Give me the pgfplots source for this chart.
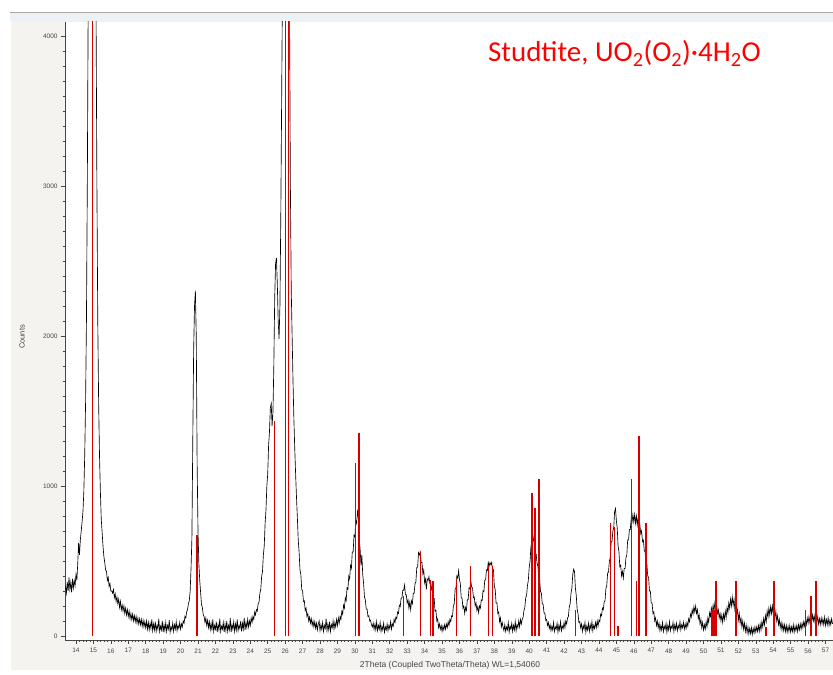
\documentclass[border=0pt]{standalone}
\usepackage{pgfplots}
\pgfplotsset{compat=1.18}
\usepackage{fontspec}
\setmainfont{Liberation Sans}
\newfontfamily\titlefont{Carlito}
\definecolor{bgGray}{RGB}{244,243,240}
\definecolor{bandC}{RGB}{236,241,245}
\definecolor{stick}{RGB}{215,0,0}
\definecolor{axc}{RGB}{70,70,70}
\begin{document}
\begin{tikzpicture}[x=1bp,y=1bp]
\useasboundingbox (0,0) rectangle (833,675);
\fill[white] (0,0) rectangle (833,675);
\fill[bgGray] (11,5) rectangle (833,662);
\fill[bandC] (10,653) rectangle (833,662);
\draw[black!35, line width=0.8bp] (10,662.5) -- (833,662.5);
\fill[white] (65,35) rectangle (833,653);
\begin{axis}[
  at={(65bp,35bp)}, anchor=south west, scale only axis,
  width=768bp, height=618bp,
  xmin=13.37, xmax=57.43, ymin=-27, ymax=4093,
  axis x line*=bottom, axis y line*=left,
  axis line style={draw=axc, line width=0.6bp, -},
  xtick={14,...,57}, minor x tick num=4,
  ytick={0,1000,2000,3000,4000}, minor y tick num=9,
  tick align=outside, major tick length=4bp, minor tick length=2bp,
  every tick/.style={axc, line width=0.5bp},
  /pgf/number format/assume math mode=true,
  ticklabel style={font=\fontsize{6.5}{7}\selectfont, text=axc},
  xticklabel style={yshift=-1bp},
  scaled y ticks=false,
  yticklabel style={/pgf/number format/1000 sep={}},
  clip=true,
]
\addplot[black, line width=0.65bp] coordinates {
(13.40,330)(13.45,285)(13.50,360)(13.55,300)(13.60,390)(13.65,310)(13.70,355)(13.75,290)
(13.80,380)(13.85,320)(13.90,370)(13.95,335)(14.00,410)(14.05,370)(14.10,480)(14.15,620)
(14.20,540)(14.25,640)(14.30,700)(14.35,760)(14.40,830)(14.45,960)(14.50,1200)(14.55,1550)
(14.60,2100)(14.65,3000)(14.70,4200)(14.75,5500)(14.80,6500)(14.85,7000)(14.90,7200)(14.95,7200)
(15.00,7000)(15.05,6500)(15.10,5200)(15.15,4200)(15.20,3000)(15.25,2100)(15.30,1550)(15.35,1200)
(15.40,960)(15.45,780)(15.50,690)(15.55,600)(15.60,530)(15.65,490)(15.70,440)(15.75,430)
(15.80,370)(15.85,390)(15.90,330)(15.95,350)(16.00,300)
(16.05,300)(16.10,285)(16.15,310)(16.20,255)(16.25,280)(16.30,230)(16.35,260)(16.40,215)
(16.45,245)(16.50,190)(16.55,230)(16.60,175)(16.65,205)(16.70,165)(16.75,200)(16.80,150)
(16.85,185)(16.90,140)(16.95,175)(17.00,130)(17.05,165)(17.10,115)(17.15,150)(17.20,110)
(17.25,145)(17.30,100)(17.35,135)(17.40,95)(17.45,130)(17.50,85)(17.55,120)(17.60,80)
(17.65,115)(17.70,75)(17.75,110)(17.80,65)(17.85,105)(17.90,60)(17.95,95)(18.00,55)
(18.05,100)(18.10,45)(18.15,90)(18.20,40)(18.25,85)(18.30,50)(18.35,110)(18.40,35)
(18.45,80)(18.50,40)(18.55,95)(18.60,30)(18.65,70)(18.70,45)(18.75,115)(18.80,30)
(18.85,65)(18.90,40)(18.95,100)(19.00,25)(19.05,75)(19.10,35)(19.15,90)(19.20,30)
(19.25,70)(19.30,45)(19.35,105)(19.40,25)(19.45,60)(19.50,40)(19.55,85)(19.60,30)
(19.65,75)(19.70,45)(19.75,95)(19.80,35)(19.85,70)(19.90,50)(19.95,90)(20.00,45)
(20.05,80)(20.10,60)(20.15,100)(20.20,85)(20.25,130)(20.30,120)(20.35,160)(20.40,175)
(20.45,215)(20.50,235)(20.55,300)(20.60,450)(20.65,650)(20.70,1300)(20.75,1900)(20.80,2200)
(20.85,2300)(20.90,2000)(20.95,1150)(21.00,700)(21.05,480)(21.10,370)(21.15,290)(21.20,210)
(21.25,190)(21.30,140)
(21.35,130)(21.40,90)(21.45,120)(21.50,70)(21.55,105)(21.60,55)(21.65,95)(21.70,40)
(21.75,85)(21.80,35)(21.85,110)(21.90,30)(21.95,70)(22.00,45)(22.05,95)(22.10,25)
(22.15,75)(22.20,40)(22.25,115)(22.30,30)(22.35,65)(22.40,45)(22.45,90)(22.50,25)
(22.55,80)(22.60,35)(22.65,100)(22.70,30)(22.75,70)(22.80,40)(22.85,120)(22.90,25)
(22.95,75)(23.00,45)(23.05,95)(23.10,30)(23.15,80)(23.20,40)(23.25,110)(23.30,35)
(23.35,70)(23.40,50)(23.45,100)(23.50,30)(23.55,85)(23.60,45)(23.65,120)(23.70,40)
(23.75,90)(23.80,55)(23.85,110)(23.90,60)(23.95,100)(24.00,70)
(24.05,120)(24.10,90)(24.15,130)(24.20,110)(24.25,160)(24.30,140)(24.35,175)(24.40,165)
(24.45,215)(24.50,225)(24.55,285)(24.60,310)(24.65,395)(24.70,430)(24.75,540)(24.80,600)
(24.85,750)(24.90,840)(24.95,1000)(25.00,1080)(25.05,1270)(25.10,1360)(25.15,1520)(25.20,1550)
(25.25,1400)(25.30,1490)(25.35,1800)(25.40,2250)(25.45,2480)(25.50,2520)(25.55,2350)(25.60,2100)
(25.65,1980)(25.70,2200)(25.75,2800)(25.80,3600)(25.85,4400)(25.90,5200)(25.95,6000)(26.00,6800)
(26.05,7200)(26.10,7200)(26.15,6800)(26.20,5600)(26.25,4200)(26.30,3000)(26.35,2300)(26.40,2000)
(26.45,1700)(26.50,1450)(26.55,1250)(26.60,1080)(26.65,925)(26.70,790)(26.75,640)(26.80,560)
(26.85,440)(26.90,410)(26.95,310)(27.00,300)(27.05,230)(27.10,235)(27.15,170)(27.20,185)
(27.25,130)(27.30,150)(27.35,100)(27.40,125)(27.45,85)(27.50,115)(27.55,70)(27.60,100)
(27.65,60)(27.70,95)(27.75,50)(27.80,85)(27.85,40)(27.90,80)(27.95,100)(28.00,35)
(28.05,75)(28.10,45)(28.15,90)(28.20,30)(28.25,70)(28.30,50)(28.35,115)(28.40,35)
(28.45,80)(28.50,40)(28.55,95)(28.60,30)(28.65,75)(28.70,55)(28.75,100)(28.80,45)
(28.85,90)(28.90,60)(28.95,110)
(29.00,70)(29.05,120)(29.10,85)(29.15,130)(29.20,110)(29.25,165)(29.30,145)(29.35,205)
(29.40,185)(29.45,255)(29.50,235)(29.55,320)(29.60,310)(29.65,400)(29.70,380)(29.75,470)
(29.80,450)(29.85,560)(29.90,560)(29.95,670)(30.00,660)(30.05,770)(30.10,750)(30.15,830)
(30.20,790)(30.25,640)(30.30,580)(30.35,470)(30.40,540)(30.45,410)(30.50,350)(30.55,260)
(30.60,240)(30.65,180)(30.70,180)(30.75,130)(30.80,135)(30.85,100)(30.90,105)(30.95,75)
(31.00,60)(31.05,85)(31.10,45)(31.15,80)(31.20,40)(31.25,95)(31.30,35)(31.35,70)
(31.40,45)(31.45,90)(31.50,30)(31.55,65)(31.60,40)(31.65,85)(31.70,25)(31.75,60)
(31.80,40)(31.85,80)(31.90,35)(31.95,70)(32.00,50)(32.05,95)(32.10,45)(32.15,80)
(32.20,65)(32.25,110)(32.30,90)(32.35,125)
(32.40,115)(32.45,160)(32.50,150)(32.55,205)(32.60,195)(32.65,250)(32.70,255)(32.75,305)
(32.80,305)(32.85,340)(32.90,275)(32.95,275)(33.00,220)(33.05,240)(33.10,185)(33.15,225)
(33.20,175)(33.25,235)(33.30,215)(33.35,285)(33.40,285)(33.45,350)(33.50,360)(33.55,455)
(33.60,460)(33.65,555)(33.70,540)(33.75,560)(33.80,490)(33.85,490)(33.90,415)(33.95,440)
(34.00,355)(34.05,380)(34.10,310)(34.15,380)(34.20,370)(34.25,395)(34.30,350)(34.35,360)
(34.40,310)(34.45,330)(34.50,250)(34.55,250)(34.60,165)(34.65,170)(34.70,100)(34.75,115)
(34.80,55)(34.85,80)(34.90,45)(34.95,70)(35.00,30)(35.05,65)(35.10,40)(35.15,75)
(35.20,45)(35.25,80)(35.30,55)(35.35,95)(35.40,70)(35.45,110)(35.50,95)(35.55,135)
(35.60,130)(35.65,200)(35.70,215)(35.75,310)(35.80,320)(35.85,400)(35.90,385)(35.95,435)
(36.00,375)(36.05,350)(36.10,255)(36.15,250)(36.20,185)(36.25,200)(36.30,150)(36.35,190)
(36.40,170)(36.45,240)(36.50,245)(36.55,320)(36.60,315)(36.65,365)(36.70,325)(36.75,320)
(36.80,255)(36.85,260)(36.90,200)(36.95,220)(37.00,170)(37.05,195)(37.10,155)(37.15,200)
(37.20,185)(37.25,240)(37.30,235)(37.35,300)(37.40,295)(37.45,370)(37.50,375)(37.55,440)
(37.60,435)(37.65,490)(37.70,465)(37.75,490)(37.80,475)(37.85,490)(37.90,430)(37.95,440)
(38.00,330)(38.05,310)(38.10,220)(38.15,220)(38.20,150)(38.25,160)(38.30,95)(38.35,120)
(38.40,60)(38.45,90)
(38.50,60)(38.55,35)(38.60,75)(38.65,30)(38.70,60)(38.75,40)(38.80,90)(38.85,25)
(38.90,65)(38.95,45)(39.00,85)(39.05,30)(39.10,70)(39.15,40)(39.20,95)(39.25,35)
(39.30,75)(39.35,55)(39.40,100)(39.45,60)(39.50,110)(39.55,80)
(39.60,110)(39.65,125)(39.70,170)(39.75,190)(39.80,255)(39.85,270)(39.90,335)(39.95,370)
(40.00,455)(40.05,500)(40.10,595)(40.15,620)(40.20,675)(40.25,640)(40.30,615)(40.35,540)
(40.40,545)(40.45,485)(40.50,465)(40.55,385)(40.60,375)(40.65,295)(40.70,285)(40.75,215)
(40.80,210)(40.85,155)(40.90,150)(40.95,105)(41.00,110)(41.05,70)(41.10,90)(41.15,50)
(41.20,75)(41.25,35)(41.30,65)(41.35,40)(41.40,90)(41.45,30)(41.50,60)(41.55,45)
(41.60,85)(41.65,25)(41.70,70)(41.75,40)(41.80,95)(41.85,35)(41.90,65)(41.95,50)
(42.00,90)(42.05,55)(42.10,100)
(42.15,80)(42.20,120)(42.25,130)(42.30,195)(42.35,215)(42.40,285)(42.45,320)(42.50,410)
(42.55,445)(42.60,430)(42.65,320)(42.70,270)(42.75,180)(42.80,150)(42.85,90)(42.90,95)
(42.95,55)(43.00,80)(43.05,30)(43.10,70)(43.15,45)(43.20,90)(43.25,25)(43.30,65)
(43.35,40)(43.40,85)(43.45,30)(43.50,75)(43.55,45)(43.60,95)(43.65,35)(43.70,70)
(43.75,50)(43.80,90)(43.85,55)(43.90,100)(43.95,65)
(44.00,105)(44.05,95)(44.10,145)(44.15,135)(44.20,185)(44.25,175)(44.30,225)(44.35,235)
(44.40,315)(44.45,335)(44.50,420)(44.55,425)(44.60,500)(44.65,520)(44.70,625)(44.75,630)
(44.80,700)(44.85,720)(44.90,830)(44.95,850)(45.00,770)(45.05,720)(45.10,600)(45.15,560)
(45.20,460)(45.25,470)(45.30,400)(45.35,430)(45.40,385)(45.45,450)(45.50,450)(45.55,520)
(45.60,540)(45.65,640)(45.70,640)(45.75,710)(45.80,710)(45.85,780)(45.90,760)(45.95,810)
(46.00,760)(46.05,810)(46.10,750)(46.15,800)(46.20,740)(46.25,790)(46.30,720)(46.35,740)
(46.40,680)(46.45,700)(46.50,630)(46.55,640)(46.60,570)(46.65,560)(46.70,480)(46.75,480)
(46.80,400)(46.85,390)(46.90,300)(46.95,300)(47.00,220)(47.05,220)(47.10,150)(47.15,160)
(47.20,100)(47.25,120)(47.30,70)(47.35,100)(47.40,55)(47.45,85)
(47.50,35)(47.55,70)(47.60,40)(47.65,90)(47.70,30)(47.75,65)(47.80,45)(47.85,85)
(47.90,25)(47.95,70)(48.00,40)(48.05,95)(48.10,35)(48.15,65)(48.20,50)(48.25,90)
(48.30,30)(48.35,75)(48.40,45)(48.45,85)(48.50,35)(48.55,70)(48.60,50)(48.65,95)
(48.70,40)(48.75,75)(48.80,55)(48.85,90)(48.90,45)(48.95,80)
(49.00,50)(49.05,90)(49.10,65)(49.15,115)(49.20,95)(49.25,145)(49.30,125)(49.35,175)
(49.40,145)(49.45,195)(49.50,160)(49.55,200)(49.60,150)(49.65,175)(49.70,115)(49.75,140)
(49.80,80)(49.85,110)(49.90,55)(49.95,90)(50.00,40)(50.05,75)(50.10,45)(50.15,95)
(50.20,60)(50.25,120)(50.30,90)(50.35,155)(50.40,130)(50.45,185)(50.50,150)(50.55,205)
(50.60,165)(50.65,220)(50.70,180)(50.75,210)(50.80,150)(50.85,175)(50.90,120)(50.95,150)
(51.00,100)(51.05,140)(51.10,90)(51.15,145)(51.20,110)(51.25,165)(51.30,125)(51.35,190)
(51.40,155)(51.45,220)(51.50,185)(51.55,245)(51.60,200)(51.65,260)(51.70,205)(51.75,245)
(51.80,175)(51.85,205)(51.90,140)(51.95,175)(52.00,105)(52.05,150)(52.10,85)(52.15,120)
(52.20,60)(52.25,100)(52.30,45)(52.35,85)(52.40,30)(52.45,70)(52.50,20)(52.55,60)
(52.60,15)(52.65,50)(52.70,15)(52.75,55)(52.80,10)(52.85,50)(52.90,20)(52.95,60)
(53.00,25)(53.05,60)(53.10,30)(53.15,70)(53.20,30)(53.25,80)(53.30,40)(53.35,95)
(53.40,60)(53.45,115)(53.50,75)(53.55,135)(53.60,95)(53.65,165)(53.70,125)(53.75,185)
(53.80,140)(53.85,195)(53.90,150)(53.95,200)(54.00,145)(54.05,185)(54.10,125)(54.15,165)
(54.20,100)(54.25,135)(54.30,75)(54.35,110)(54.40,55)(54.45,90)(54.50,40)(54.55,80)
(54.60,35)(54.65,75)(54.70,30)(54.75,70)(54.80,25)(54.85,65)(54.90,30)(54.95,70)
(55.00,25)(55.05,60)(55.10,30)(55.15,75)(55.20,25)(55.25,65)(55.30,35)(55.35,70)
(55.40,30)(55.45,75)(55.50,40)(55.55,80)(55.60,45)(55.65,85)(55.70,55)(55.75,95)
(55.80,65)(55.85,110)(55.90,75)(55.95,120)(56.00,85)(56.05,130)(56.10,90)(56.15,125)
(56.20,95)(56.25,140)(56.30,100)(56.35,135)(56.40,90)(56.45,145)(56.50,95)(56.55,130)
(56.60,80)(56.65,115)(56.70,75)(56.75,120)(56.80,80)(56.85,115)(56.90,75)(56.95,125)
(57.00,70)(57.05,110)(57.10,75)(57.15,120)(57.20,70)(57.25,105)(57.30,75)(57.35,115)
(57.40,80)
};
\addplot[ycomb, draw=stick, line width=1.6bp, mark=none] coordinates {
(14.95,6000)(20.93,670)(25.40,1430)(26.03,6000)(26.20,6000)(30.03,1150)(30.22,1350)
(32.78,265)(33.77,560)(34.33,372)(34.48,365)(35.82,372)(36.64,465)(37.67,465)(37.90,465)
(40.16,950)(40.32,850)(40.56,1043)(42.66,173)(44.66,750)(44.89,725)(45.09,66)
(45.86,1043)(46.15,365)(46.30,1335)(46.71,750)(50.48,173)(50.60,173)(50.71,365)
(51.88,365)(53.58,60)(54.03,365)(55.84,173)(56.17,265)(56.44,365)
};
\end{axis}
\node[rotate=90, font=\fontsize{7.5}{8}\selectfont, text=axc] at (22,338) {Counts};
\node[font=\fontsize{8.5}{9}\selectfont, text=axc] at (450,10) {2Theta (Coupled TwoTheta/Theta) WL=1,54060};
\node[anchor=base west, inner sep=0, text={rgb,255:red,255;green,0;blue,0}, font=\titlefont\fontsize{29}{31}\selectfont] at (488,613) {Studtite, UO\textsubscript{2}(O\textsubscript{2})·4H\textsubscript{2}O};
\end{tikzpicture}
\end{document}
